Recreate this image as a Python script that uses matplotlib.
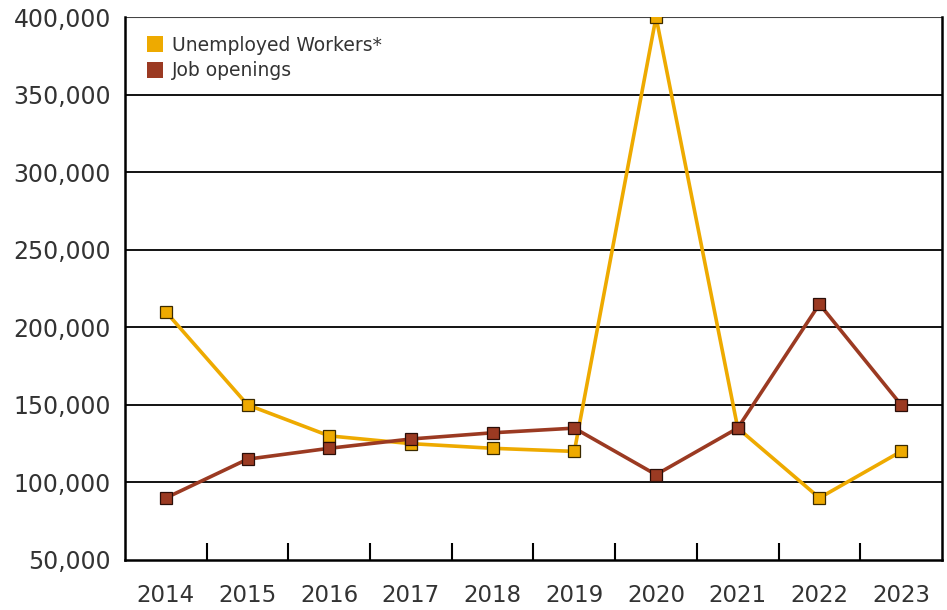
import matplotlib
matplotlib.use("Agg")
import matplotlib.pyplot as plt
from matplotlib.ticker import FuncFormatter, FixedLocator

years = ["2014", "2015", "2016", "2017", "2018", "2019", "2020", "2021", "2022", "2023"]
unemployed = [210000, 150000, 130000, 125000, 122000, 120000, 400000, 135000, 90000, 120000]
job_openings = [90000, 115000, 122000, 128000, 132000, 135000, 105000, 135000, 215000, 150000]
yticks = [50000, 100000, 150000, 200000, 250000, 300000, 350000, 400000]

plt.rcParams['font.family'] = ['DejaVu Sans']
fig = plt.figure(figsize=(9.47, 6.10), dpi=100)
ax = fig.add_axes([0.132, 0.082, 0.8627, 0.890])

x = list(range(len(years)))
for yv in yticks[1:-1]:
    ax.axhline(yv, color='black', lw=1.3, zorder=1)
ax.axhline(yticks[-1], color='#444444', lw=1.5, zorder=1)

ax.plot(x, unemployed, color='#EEAA00', lw=2.6, marker='s', ms=9,
        mfc='#EEAA00', mec='#3a2a00', mew=0.9, label='Unemployed Workers*', zorder=3)
ax.plot(x, job_openings, color='#9B3A22', lw=2.6, marker='s', ms=9,
        mfc='#9B3A22', mec='#2a0e08', mew=0.9, label='Job openings', zorder=3)

ax.set_xlim(-0.5, len(years) - 0.5)
ax.set_ylim(yticks[0], yticks[-1])
ax.set_yticks(yticks)
ax.yaxis.set_major_formatter(FuncFormatter(lambda v, p: f"{int(v):,}"))
ax.set_xticks(x)
ax.set_xticklabels(years)
ax.xaxis.set_minor_locator(FixedLocator([i + 0.5 for i in range(len(years) - 1)]))
ax.tick_params(axis='x', which='major', length=0, pad=17, labelsize=16.5, labelcolor='#333333')
ax.tick_params(axis='x', which='minor', direction='in', length=12, width=1.5, color='black')
ax.tick_params(axis='y', length=0, pad=10, labelsize=17, labelcolor='#333333')

for s in ['left', 'right', 'bottom']:
    ax.spines[s].set_color('black')
    ax.spines[s].set_linewidth(1.8)
ax.spines['top'].set_visible(False)

leg = ax.legend(loc='upper left', frameon=False, fontsize=13.5, handlelength=0.8,
                handletextpad=0.5, labelspacing=0.35, borderaxespad=0.6,
                bbox_to_anchor=(0.005, 1.0))
for h in leg.legend_handles:
    h.set_linestyle('none')
    h.set_markeredgewidth(0)
    h.set_markersize(11)
for t in leg.get_texts():
    t.set_color('#333333')

fig.savefig("out.png", dpi=100)
